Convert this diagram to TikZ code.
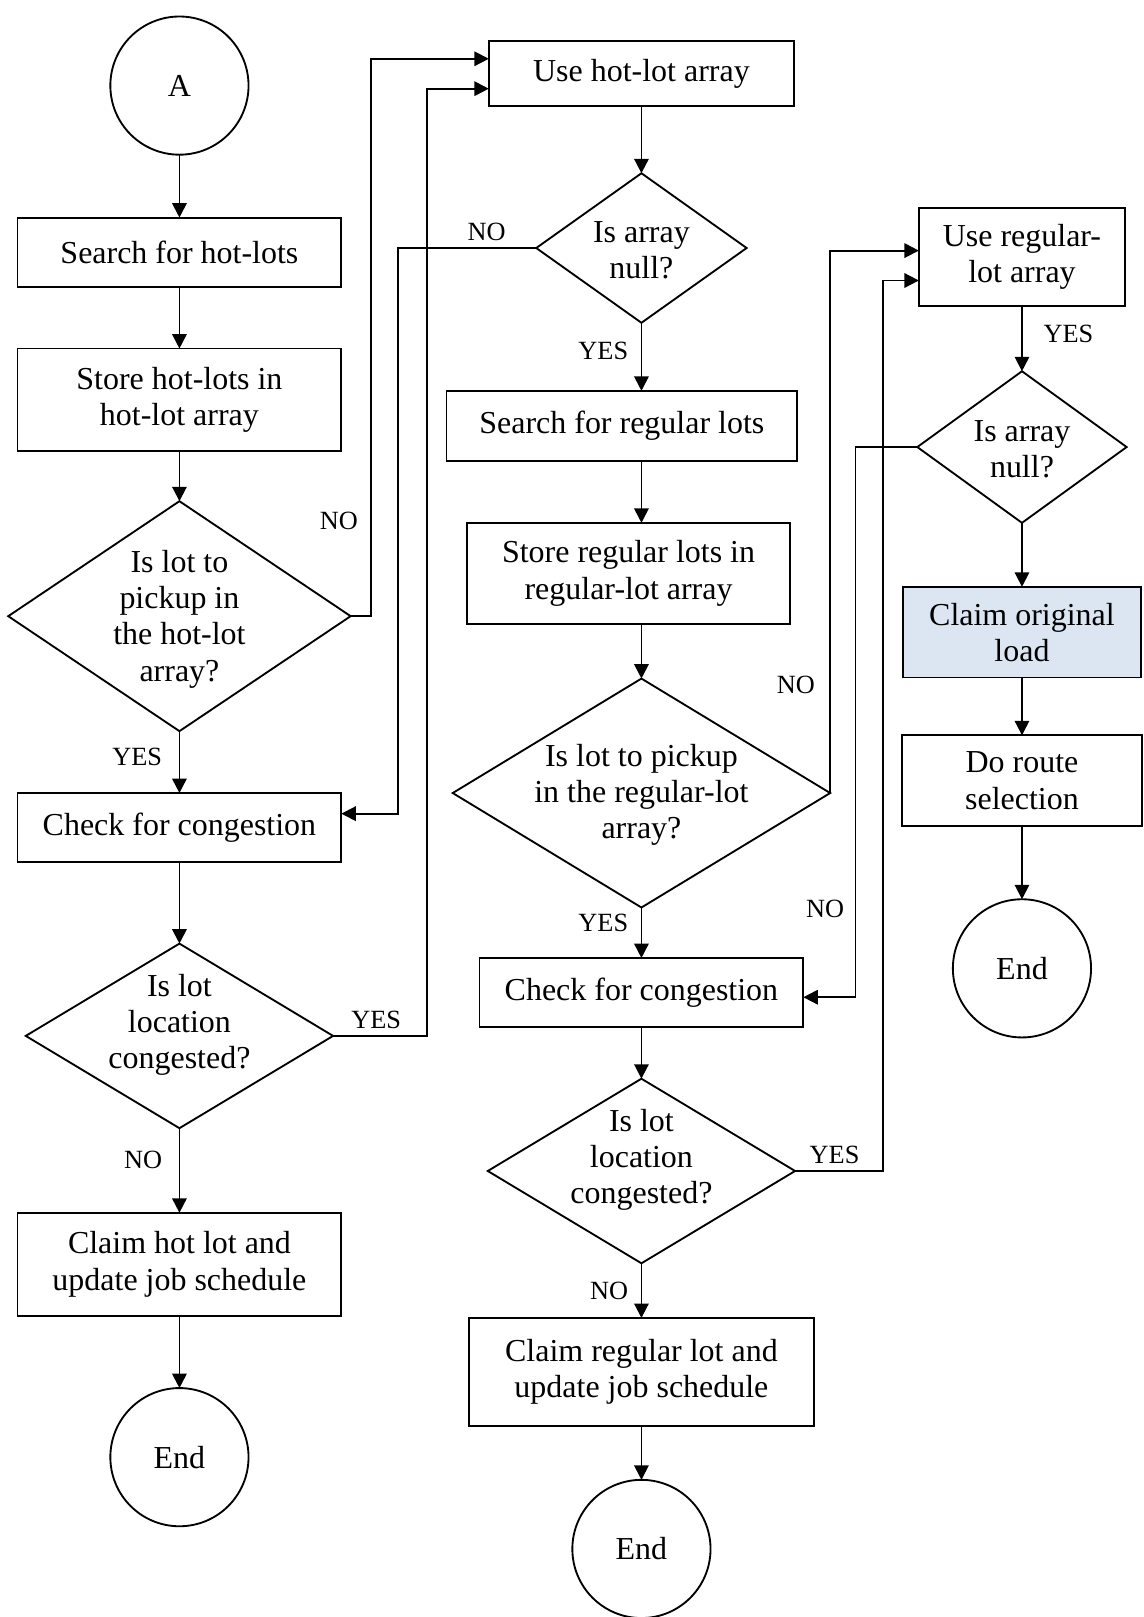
\documentclass[tikz,border=0pt]{standalone}
\usepackage{fontspec}
\setmainfont{Liberation Serif}
\usetikzlibrary{positioning, shapes.geometric, arrows.meta}
\definecolor{loadfill}{RGB}{220,230,242}
\tikzset{
node distance = 30pt,
textfont/.style={
	font=\fontsize{15.5}{17.5}\selectfont,
},
stepbox/.style={
	draw,
	line width=0.9pt,
	shape=rectangle,
	inner sep=2pt,
	outer sep=0pt,
	align=center,
	textfont,
},
decision/.style={
	draw,
	line width=0.9pt,
	shape=diamond,
	inner sep=0pt,
	outer sep=0pt,
},
dtext/.style={
	align=center,
	inner sep=0pt,
	textfont,
},
terminal/.style={
	draw,
	line width=0.9pt,
	shape=circle,
	minimum size=67pt,
	inner sep=0pt,
	outer sep=0pt,
	textfont,
},
connection/.style={
	line width=0.9pt,
	-{Triangle[length=7pt,width=7pt]},
},
lbl/.style={
	font=\fontsize{12.75}{14}\selectfont,
	inner sep=1pt,
}
}

\begin{document}
\begin{tikzpicture}[x=0.5pt, y=-0.5pt]
		\useasboundingbox (0,0) rectangle (1109,1568);
		% Hot-lot column
		\node[terminal] (A) at (174,83) {A};
		\node[stepbox, minimum width=157pt, minimum height=33.5pt, below=30.5pt of A] (hotSearch) {Search for hot-lots};
		\node[stepbox, minimum width=157pt, minimum height=49.5pt, below=30pt of hotSearch] (hotStore) {Store hot-lots in\\hot-lot array};
		\node[decision, minimum width=166pt, minimum height=111.5pt, below=24.5pt of hotStore,
			label={[dtext, yshift=-1.5pt]center:{Is lot to\\pickup in\\the hot-lot\\array?}}] (hotPick) {};
		\node[stepbox, minimum width=157pt, minimum height=33.5pt, below=30pt of hotPick] (hotCong) {Check for congestion};
		\node[decision, minimum width=149pt, minimum height=89.5pt, below=39.5pt of hotCong,
			label={[dtext, yshift=5.5pt]center:{Is lot\\location\\congested?}}] (hotIsCong) {};
		\node[stepbox, minimum width=157pt, minimum height=50pt, below=41pt of hotIsCong] (hotClaim) {Claim hot lot and\\update job schedule};
		\node[terminal, below=35pt of hotClaim] (hotEnd) {End};
		
		% Regular-lot column
		\node[stepbox, minimum width=148pt, minimum height=31.5pt] (hotUse) at (622,71.5) {Use hot-lot array};
		\node[decision, minimum width=102pt, minimum height=72.5pt, below=32.5pt of hotUse,
			label={[dtext, yshift=-1.25pt]center:{Is array\\null?}}] (hotNull) {};
		\node[stepbox, minimum width=170pt, minimum height=34pt, below=33pt of hotNull, xshift=-9.5pt] (regSearch) {Search for regular lots};
		\node[stepbox, minimum width=156.5pt, minimum height=49pt, below=30pt of regSearch, xshift=3.25pt] (regStore) {Store regular lots in\\regular-lot array};
		\node[decision, minimum width=183pt, minimum height=111pt, below=26.5pt of regStore, xshift=6.25pt,
			label={[dtext, yshift=-1pt]center:{Is lot to pickup\\in the regular-lot\\array?}}] (regPick) {};
		\node[stepbox, minimum width=157pt, minimum height=33.5pt, below=24.5pt of regPick] (regCong) {Check for congestion};
		\node[decision, minimum width=149pt, minimum height=89.5pt, below=25pt of regCong,
			label={[dtext, yshift=5.5pt]center:{Is lot\\location\\congested?}}] (regIsCong) {};
		\node[stepbox, minimum width=167pt, minimum height=52.5pt, below=26.5pt of regIsCong] (regClaim) {Claim regular lot and\\update job schedule};
		\node[terminal, below=26pt of regClaim] (regEnd) {End};
		
		% Route column
		\node[stepbox, minimum width=100pt, minimum height=47.5pt] (regUse) at (991,249.5) {Use regular-\\lot array};
		\node[decision, minimum width=101.5pt, minimum height=73.5pt, below=31.5pt of regUse,
			label={[dtext, yshift=-1.25pt]center:{Is array\\null?}}] (regNull) {};
		\node[stepbox, fill=loadfill, minimum width=115.5pt, minimum height=44pt, below=31pt of regNull] (origClaim) {Claim original\\load};
		\node[stepbox, minimum width=116pt, minimum height=44pt, below=28pt of origClaim] (route) {Do route\\selection};
		\node[terminal, below=35.5pt of route] (routeEnd) {End};
		
		% Connections
		
		% hot-lot ->
		\draw[connection] (A) -- (hotSearch);
		\draw[connection] (hotSearch) -- (hotStore);
		\draw[connection] (hotStore) -- (hotPick);
		\draw[connection] (hotPick) -- (hotCong)
			 node[lbl, pos=0.42, left=7pt] {YES};
		\draw[connection] (hotCong) -- (hotIsCong);
		\draw[connection] (hotIsCong) -- (hotClaim)
			 node[lbl, pos=0.37, left=7pt] {NO};
		\draw[connection] (hotClaim) -- (hotEnd);
		
		% regular-lot ->
		\draw[connection] (hotUse) -- (hotNull);
		\draw[connection] (hotNull.south) -- (hotNull.south |- regSearch.north)
			 node[lbl, pos=0.42, left=5pt] {YES};
		\draw[connection] (hotNull.south |- regSearch.south) -- (hotNull.south |- regStore.north);
		\draw[connection] (hotNull.south |- regStore.south) -- (regPick.north);
		\draw[connection] (regPick) -- (regCong)
			 node[lbl, pos=0.3, left=5pt] {YES};
		\draw[connection] (regCong) -- (regIsCong);
		\draw[connection] (regIsCong) -- (regClaim)
			 node[lbl, pos=0.5, left=5pt] {NO};
		\draw[connection] (regClaim) -- (regEnd);
		
		% route ->
		\draw[connection] (regUse) -- (regNull)
			 node[lbl, pos=0.43, right=9pt] {YES};
		\draw[connection] (regNull) -- (origClaim);
		\draw[connection] (origClaim) -- (route);
		\draw[connection] (route) -- (routeEnd);
		
		% loops back
		\draw[connection] (hotPick.east) -- ++(20,0) |- ([yshift=7.25pt]hotUse.west)
			 node[lbl, pos=0.085, left=5pt] {NO};
		\draw[connection] (hotNull.west) -- ++(-134,0)
			 node[lbl, pos=0.36, above=2pt] {NO} |- ([yshift=6.75pt]hotCong.east);
		\draw[connection] (hotIsCong.east) -- ++(91,0)
			 node[lbl, pos=0.46, above=2pt] {YES} |- ([yshift=-7.25pt]hotUse.west);
		\draw[connection] (regPick.east) |- ([yshift=3.25pt]regUse.west)
			 node[lbl, pos=0.1, left=6pt] {NO};
		\draw[connection] (regNull.west) -- ++(-60,0) |- ([yshift=-2.25pt]regCong.east)
			 node[lbl, pos=0.42, left=4pt] {NO};
		\draw[connection] (regIsCong.east) -- ++(85,0)
			 node[lbl, pos=0.45, above=2pt] {YES} |- ([yshift=-11.25pt]regUse.west);
	\end{tikzpicture}
\end{document}
